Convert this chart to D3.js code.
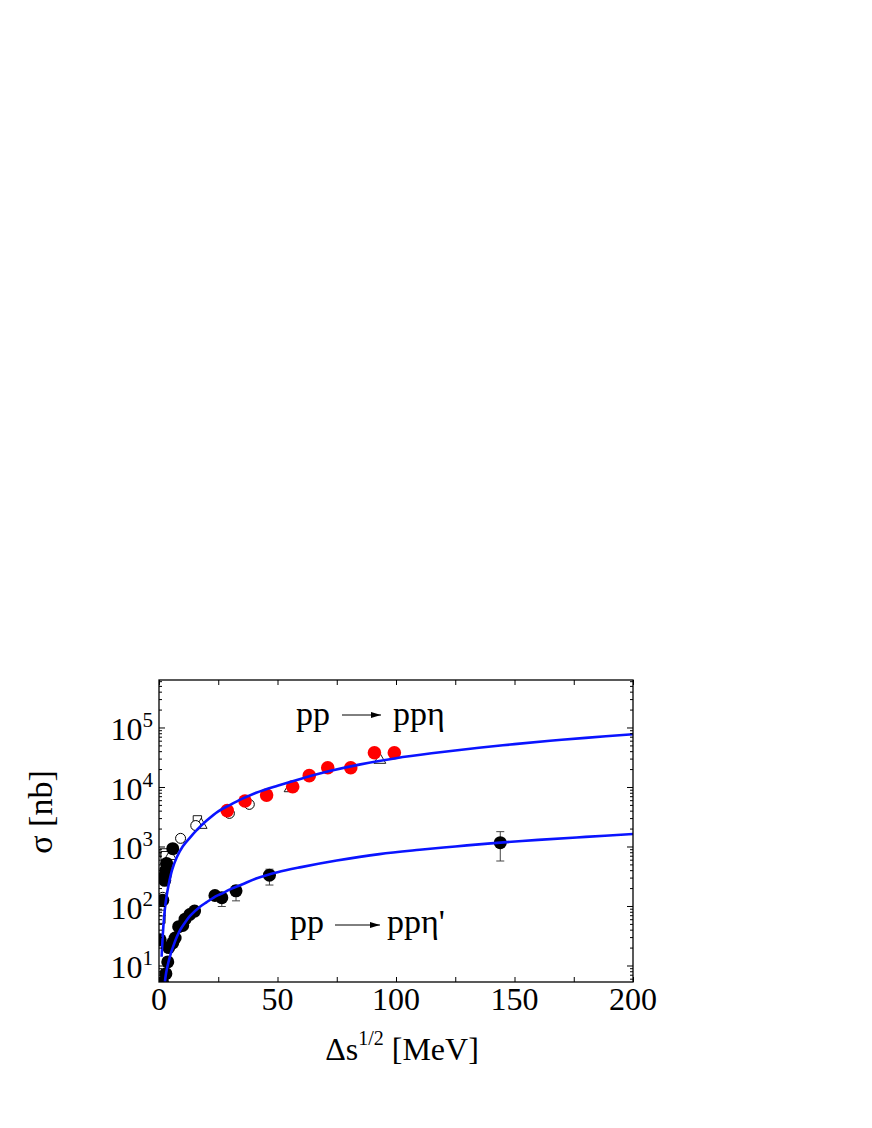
<!DOCTYPE html>
<html><head><meta charset="utf-8">
<script src="https://cdn.jsdelivr.net/npm/d3@7"></script>
<style>body{margin:0;background:#fff}</style>
</head><body>
<svg id="c" width="872" height="1128"></svg>
<script>
// ---------- data ----------
const xTickLabels = [0, 50, 100, 150, 200];
const xTickValues = [0, 25, 50, 75, 100, 125, 150, 175, 200];
const yExponents = [1, 2, 3, 4, 5];

// fitted curves (Q [MeV], sigma [nb])
const etaCurve = [[1.1,14],[1.5,28],[2,55],[2.5,90],[3,130],[4,220],[5.5,400],[7.5,660],[10,1000],[13,1400],[16,1900],[20,2700],[25,3900],[30,5000],[35,6300],[41,8000],[50,10500],[60,13800],[72,18500],[85,24000],[100,30500],[115,36800],[135,45600],[150,52500],[165,59700],[180,67000],[200,77000]];
const etaPrimeCurve = [[2.5,5.3],[3,7.5],[3.9,11],[5,16],[6,21],[7.5,30],[9,40],[11,53],[13.1,68],[17.3,97],[20,115],[24.3,148],[27,165],[30,190],[35,230],[41,290],[50,370],[60,450],[75,580],[93,745],[110,880],[125,1000],[140,1130],[160,1290],[180,1450],[200,1620]];

// pp -> pp eta data
const etaRed = [[28.8,4000],[36.3,5800],[45.4,7300],[56.4,10100],[63.4,15500],[71.2,21000],[80.9,21000],[90.9,37700],[99.3,37700]];
const etaFilled = [[0.5,27],[1.6,125],[2.4,270],[2.6,330],[2.9,400],[3.2,520],[5.8,920]];
const etaOpenCircle = [[1.6,140],[9.1,1370],[15.5,2250],[29.7,3600],[38.1,5100]];
const etaOpenTriangle = [[4.8,690],[17.8,2300],[55.3,9500],[93.2,28500]];
const etaOpenSquare = [[0.8,60],[0.8,80],[0.9,100],[2.2,780],[2.6,700],[16.2,2800]];

// pp -> pp eta' data : [Q, sigma, errLow, errHigh]
const etaPrime = [[1.5,5.2,0,0],[2.9,7.3,0,0],[3.7,11.5,0,0],[4.1,20,0,0],[5.8,24,0,0],[6.8,29,0,0],[8.3,45,0,0],[10,47,0,0],[11,60,0,0],[13,72,0,0],[15,82,0,0],[23.6,150,0,0],[26.5,138,40,30],[32.5,180,58,40],[46.6,330,105,85],[144,1160,590,615]];

// ---------- layout ----------
const L = 159, R = 633, T = 680, B = 982;
const svg = d3.select("#c");
const x = d3.scaleLinear().domain([0, 200]).range([L, R]);
const y = d3.scaleLog().domain([5.28, 6.28e5]).range([B, T]);
const font = "'Liberation Serif','Times New Roman',serif";

const defs = svg.append("defs");
defs.append("clipPath").attr("id","clip")
  .append("rect").attr("x",L).attr("y",T).attr("width",R-L).attr("height",B-T);
const plot = svg.append("g").attr("clip-path","url(#clip)");

// ---------- axes / ticks ----------
const yMajor = yExponents.map(e => Math.pow(10, e));
const yMinor = [];
for (let e = 0; e <= 5; e++) for (let m = 2; m <= 9; m++) {
  const v = m * Math.pow(10, e);
  if (v > y.domain()[0] && v < y.domain()[1]) yMinor.push(v);
}
function styleAxis(g){ g.select(".domain").remove(); g.selectAll("line").attr("stroke","#000").attr("stroke-width",1); g.selectAll("text").remove(); }
svg.append("g").attr("transform",`translate(${L},0)`).call(d3.axisLeft(y).tickValues(yMajor).tickSize(-6)).call(styleAxis);
svg.append("g").attr("transform",`translate(${L},0)`).call(d3.axisLeft(y).tickValues(yMinor).tickSize(-3)).call(styleAxis);
svg.append("g").attr("transform",`translate(${R},0)`).call(d3.axisRight(y).tickValues(yMajor).tickSize(-6)).call(styleAxis);
svg.append("g").attr("transform",`translate(${R},0)`).call(d3.axisRight(y).tickValues(yMinor).tickSize(-3)).call(styleAxis);
svg.append("g").attr("transform",`translate(0,${B})`).call(d3.axisBottom(x).tickValues(xTickValues).tickSize(-5)).call(styleAxis);
svg.append("g").attr("transform",`translate(0,${T})`).call(d3.axisTop(x).tickValues(xTickValues).tickSize(-5)).call(styleAxis);

// frame
svg.append("rect").attr("x",L).attr("y",T).attr("width",R-L).attr("height",B-T)
  .attr("fill","none").attr("stroke","#000").attr("stroke-width",1.3);

// tick labels
svg.append("g").selectAll("text").data(xTickLabels).join("text")
  .attr("x", d => x(d)).attr("y", B + 28).attr("text-anchor","middle")
  .attr("font-family",font).attr("font-size",32).text(d => d);
const yl = svg.append("g").selectAll("text").data(yExponents).join("text")
  .attr("x", 153).attr("y", d => y(Math.pow(10,d)) + 13).attr("text-anchor","end")
  .attr("font-family",font).attr("font-size",32);
yl.append("tspan").text("10");
yl.append("tspan").attr("dy",-13).attr("font-size",21).text(d => d);

// axis titles
const xt = svg.append("text").attr("x",402).attr("y",1060).attr("text-anchor","middle")
  .attr("font-family",font).attr("font-size",32);
xt.append("tspan").text("\u0394s");
xt.append("tspan").attr("dy",-15).attr("font-size",20).text("1/2");
xt.append("tspan").attr("dy",15).text(" [MeV]");
svg.append("text").attr("transform","translate(52,812) rotate(-90)").attr("text-anchor","middle")
  .attr("font-family",font).attr("font-size",34).text("\u03c3 [nb]");

// ---------- data markers ----------
const sq = d3.symbol().type(d3.symbolSquare).size(70);
const tri = d3.symbol().type(d3.symbolTriangle).size(60);
plot.append("g").selectAll("path").data(etaOpenSquare).join("path")
  .attr("transform", d => `translate(${x(d[0])},${y(d[1])})`).attr("d", sq)
  .attr("fill","white").attr("stroke","#000").attr("stroke-width",0.9);
plot.append("g").selectAll("path").data(etaOpenTriangle).join("path")
  .attr("transform", d => `translate(${x(d[0])},${y(d[1])})`).attr("d", tri)
  .attr("fill","white").attr("stroke","#000").attr("stroke-width",0.9);
plot.append("g").selectAll("circle").data(etaOpenCircle).join("circle")
  .attr("cx", d => x(d[0])).attr("cy", d => y(d[1])).attr("r",5)
  .attr("fill","white").attr("stroke","#000").attr("stroke-width",1);
plot.append("g").selectAll("circle").data(etaRed).join("circle")
  .attr("cx", d => x(d[0])).attr("cy", d => y(d[1])).attr("r",6.8).attr("fill","#ff0000");
plot.append("g").selectAll("circle").data(etaFilled).join("circle")
  .attr("cx", d => x(d[0])).attr("cy", d => y(d[1])).attr("r",6.5).attr("fill","#000");

// eta' error bars
const eb = plot.append("g").attr("stroke","#444").attr("stroke-width",1);
etaPrime.filter(d => d[2] > 0).forEach(d => {
  const cx = x(d[0]), y1 = y(d[1]-d[2]), y2 = y(d[1]+d[3]);
  eb.append("line").attr("x1",cx).attr("x2",cx).attr("y1",y1).attr("y2",y2);
  eb.append("line").attr("x1",cx-4).attr("x2",cx+4).attr("y1",y1).attr("y2",y1);
  eb.append("line").attr("x1",cx-4).attr("x2",cx+4).attr("y1",y2).attr("y2",y2);
});
plot.append("g").selectAll("circle").data(etaPrime).join("circle")
  .attr("cx", d => x(d[0])).attr("cy", d => y(d[1])).attr("r",6.5).attr("fill","#000");

// ---------- curves ----------
const line = d3.line().x(d => x(d[0])).y(d => y(d[1])).curve(d3.curveCatmullRom.alpha(0.5));
[etaCurve, etaPrimeCurve].forEach(c => plot.append("path").attr("d", line(c))
  .attr("fill","none").attr("stroke","#0a14ff").attr("stroke-width",2.6));

// ---------- annotations ----------
defs.append("marker").attr("id","ah").attr("viewBox","0 0 10 6")
  .attr("refX",10).attr("refY",3).attr("markerWidth",10).attr("markerHeight",6)
  .attr("markerUnits","userSpaceOnUse").attr("orient","auto")
  .append("path").attr("d","M0,0L10,3L0,6Z").attr("fill","#000");
function reaction(x0, yb, yl, xa1, xa2, xr, rhs){
  svg.append("text").attr("x",x0).attr("y",yb).attr("font-family",font).attr("font-size",34).text("pp");
  svg.append("line").attr("x1",xa1).attr("x2",xa2).attr("y1",yl).attr("y2",yl)
    .attr("stroke","#000").attr("stroke-width",1).attr("marker-end","url(#ah)");
  svg.append("text").attr("x",xr).attr("y",yb).attr("font-family",font).attr("font-size",34).text(rhs);
}
reaction(296, 725, 715, 342, 381, 393, "pp\u03b7");
reaction(290, 933, 925, 335, 380, 387, "pp\u03b7'");
</script>
</body></html>
